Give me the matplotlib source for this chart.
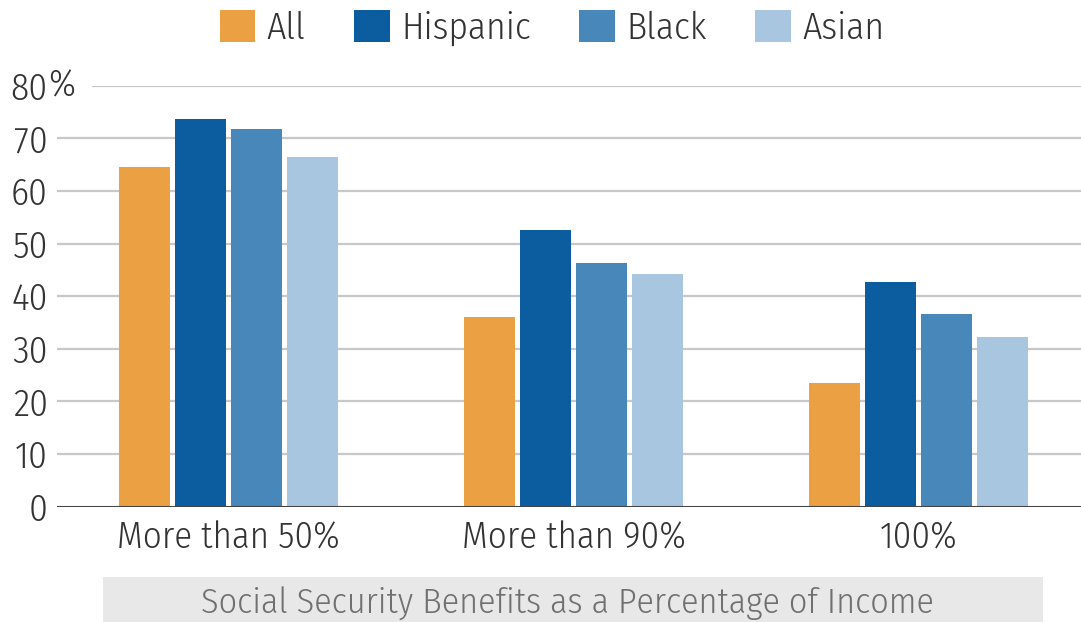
import matplotlib.pyplot as plt
from matplotlib.patches import Rectangle
import numpy as np

plt.rcParams['font.family'] = ['Fira Sans Condensed', 'DejaVu Sans']
plt.rcParams['font.stretch'] = 'condensed'
plt.rcParams['font.weight'] = 300

# data
groups = ['More than 50%', 'More than 90%', '100%']
series = ['All', 'Hispanic', 'Black', 'Asian']
all_vals = [64.5, 36.1, 23.6]
hispanic_vals = [73.7, 52.5, 42.7]
black_vals = [71.8, 46.3, 36.7]
asian_vals = [66.4, 44.3, 32.3]
yticks = [0, 10, 20, 30, 40, 50, 60, 70, 80]
xtitle = 'Social Security Benefits as a Percentage of Income'

colors = ['#EBA043', '#0C5DA0', '#4887BA', '#A8C6E0']
text_col = '#333333'

W, H = 1081, 622
fig = plt.figure(figsize=(W / 100, H / 100), dpi=100)
ax = fig.add_axes([57 / W, (H - 506.7) / H, (W - 57) / W, (506.7 - 85.8) / H])

x = np.arange(len(groups))
step = 0.1626
width = 0.1464
for i, (name, vals) in enumerate(zip(series, [all_vals, hispanic_vals, black_vals, asian_vals])):
    ax.bar(x + (i - 1.5) * step, vals, width, color=colors[i], label=name, zorder=3)

ax.set_xlim(-0.497, 2.471)
ax.set_ylim(0, 80)

# grid lines (the 80 line starts after the wider "80%" label)
for t in yticks[1:]:
    xmin = (93 - 57) / (W - 57) if t == 80 else 0
    ax.axhline(t, xmin=xmin, color='#C8C8C8', lw=1.6, zorder=1)
ax.axhline(0, color='#444444', lw=1.5, zorder=4)

for s in ax.spines.values():
    s.set_visible(False)
ax.set_yticks(yticks)
ax.set_yticklabels([str(t) for t in yticks])
ax.set_xticks(x)
ax.set_xticklabels(groups)
ax.tick_params(axis='y', length=0, pad=6.5, labelsize=27, labelcolor=text_col)
ax.tick_params(axis='x', length=0, pad=10, labelsize=26.5, labelcolor=text_col)
ax.annotate('%', xy=(0, 80), xycoords=ax.get_yaxis_transform(), xytext=(-6.5, 0),
            textcoords='offset points', ha='left', va='center', fontsize=27, color=text_col)

fig.legend(loc='center', bbox_to_anchor=(552 / W, 1 - 28 / H), ncol=4, frameon=False,
           fontsize=27, handlelength=0.95, handleheight=0.95, handletextpad=0.3,
           columnspacing=1.3, borderpad=0, labelcolor=text_col)

# x-axis title in a gray box
fig.patches.append(Rectangle((103 / W, 0), (1043 - 103) / W, 45 / H, transform=fig.transFigure,
                             facecolor='#E8E8E8', edgecolor='none'))
fig.text(567 / W, 8 / H, xtitle, ha='center', va='baseline', fontsize=26, color='#707070')

fig.savefig('out.png', dpi=100)
